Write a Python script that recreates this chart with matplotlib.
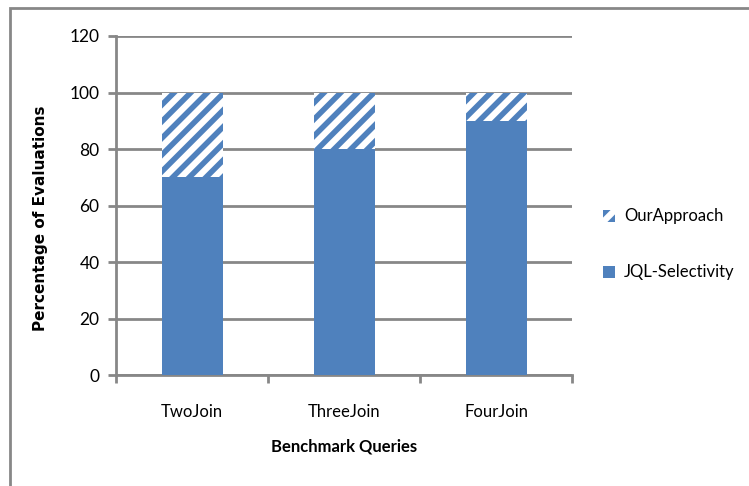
import matplotlib.pyplot as plt
from matplotlib.patches import Rectangle, Patch

queries = ['TwoJoin', 'ThreeJoin', 'FourJoin']
jql = [70, 80, 90]
ours = [30, 20, 10]

blue = '#4F81BD'
grid = '#878787'

plt.rcParams['font.family'] = ['Lato', 'DejaVu Sans']
plt.rcParams['hatch.linewidth'] = 4.0

fig = plt.figure(figsize=(7.49, 4.86), dpi=100)
ax = fig.add_axes([0.155, 0.228, 0.609, 0.698])

x = range(len(queries))
ax.bar(x, jql, width=0.4, color=blue, zorder=3)
ax.bar(x, ours, width=0.4, bottom=jql, facecolor='white', edgecolor=blue,
       hatch='//', linewidth=0, zorder=3)

ax.set_xlim(-0.5, 2.5)
ax.set_ylim(0, 120)
ax.set_yticks(range(0, 121, 20))
ax.set_xticks(list(x))
ax.set_xticklabels(queries, fontsize=12)
ax.set_xticks([-0.5, 0.5, 1.5, 2.5], minor=True)
ax.tick_params(axis='x', which='major', length=0, pad=21)
ax.tick_params(axis='x', which='minor', length=6, width=2, color=grid, direction='out')
ax.tick_params(axis='y', length=6, width=2, color=grid, labelsize=12.5, pad=6)
ax.yaxis.grid(True, color=grid, linewidth=2, zorder=0)
for s in ['top', 'right']:
    ax.spines[s].set_visible(False)
for s in ['left', 'bottom']:
    ax.spines[s].set_color(grid)
    ax.spines[s].set_linewidth(2)

ax.set_xlabel('Benchmark Queries', fontsize=12, fontweight='bold', labelpad=13)
ax.set_ylabel('Percentage of Evaluations', fontsize=11, fontweight='bold',
              family='DejaVu Sans')
ax.yaxis.set_label_coords(-0.15, 0.463)

handles = [Patch(facecolor='white', edgecolor=blue, hatch='//', linewidth=0),
           Patch(facecolor=blue)]
fig.legend(handles, ['OurApproach', 'JQL-Selectivity'], loc='center left',
           bbox_to_anchor=(0.785, 0.497), frameon=False, fontsize=12,
           labelspacing=2.4, handlelength=0.75, handleheight=0.75, handletextpad=0.5)

fig.patches.append(Rectangle((10 / 749, -0.1), 1.2, 1 - 8 / 486 + 0.1,
                             transform=fig.transFigure, fill=False,
                             edgecolor=grid, linewidth=2))

fig.savefig('out.png', dpi=100)
